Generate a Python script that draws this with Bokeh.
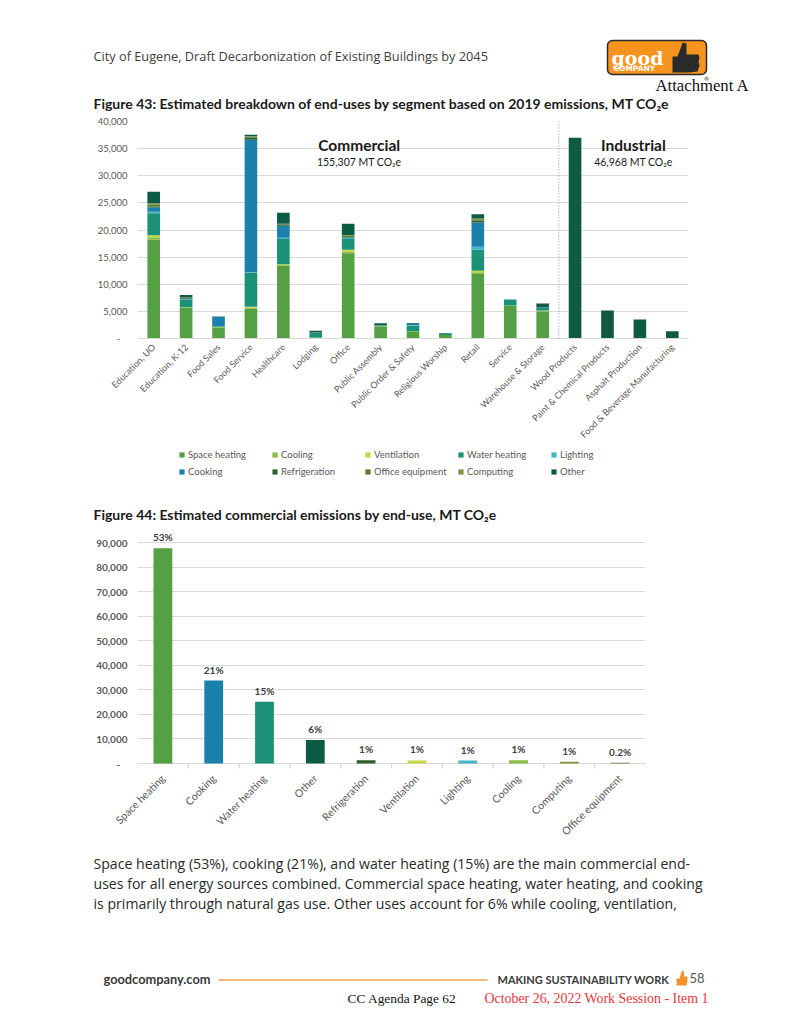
import math
from bokeh.plotting import figure
from bokeh.models import (Range1d, FactorRange, Span, Label, LabelSet, ColumnDataSource, Legend,
                          LegendItem, NumeralTickFormatter, SingleIntervalTicker)
from bokeh.transform import dodge
from bokeh.layouts import column, row
from bokeh.core.properties import value
from bokeh.embed import file_html
from bokeh.resources import INLINE

# ---------------- data: Figure 43 ----------------
commercial_segments = ["Education, UO", "Education, K-12", "Food Sales", "Food Service", "Healthcare",
                       "Lodging", "Office", "Public Assembly", "Public Order & Safety",
                       "Religious Worship", "Retail", "Service", "Warehouse & Storage"]
industrial_segments = ["Wood Products", "Paint & Chemical Products", "Asphalt Production",
                       "Food & Beverage Manufacturing"]
end_uses = ["Space heating", "Cooling", "Ventilation", "Water heating", "Lighting",
            "Cooking", "Refrigeration", "Office equipment", "Computing", "Other"]

space_heating    = [18200, 5600, 2000, 5500, 13400, 200, 15700, 2200, 1300, 650, 11900, 6000, 5000, 0, 0, 0, 0]
cooling          = [450, 100, 100, 150, 150, 0, 300, 50, 50, 0, 300, 100, 100, 0, 0, 0, 0]
ventilation      = [400, 50, 0, 200, 150, 0, 350, 0, 0, 0, 300, 0, 50, 0, 0, 0, 0]
water_heating    = [4050, 1350, 150, 6300, 4650, 800, 2000, 100, 1050, 300, 3900, 1050, 450, 0, 0, 0, 0]
lighting         = [250, 100, 50, 100, 200, 50, 200, 50, 100, 0, 500, 0, 50, 0, 0, 0, 0]
cooking          = [800, 150, 1650, 24400, 2250, 0, 50, 0, 150, 0, 4500, 0, 50, 0, 0, 0, 0]
refrigeration    = [200, 100, 50, 400, 200, 100, 100, 50, 50, 0, 300, 0, 0, 0, 0, 0, 0]
office_equipment = [350, 50, 0, 150, 100, 0, 300, 0, 0, 0, 300, 0, 0, 0, 0, 0, 0]
computing        = [250, 50, 0, 100, 50, 0, 100, 0, 0, 0, 100, 0, 0, 0, 0, 0, 0]
other            = [2100, 450, 50, 250, 2050, 300, 2050, 350, 150, 50, 800, 50, 750, 37000, 5150, 3500, 1318]

commercial_total_label = "155,307 MT CO₂e"
industrial_total_label = "46,968 MT CO₂e"

# ---------------- data: Figure 44 ----------------
fig44_uses = ["Space heating", "Cooking", "Water heating", "Other", "Refrigeration", "Ventilation",
              "Lighting", "Cooling", "Computing", "Office equipment"]
fig44_values = [87800, 33800, 25200, 9600, 1350, 1250, 1200, 1300, 750, 300]
fig44_pct = ["53%", "21%", "15%", "6%", "1%", "1%", "1%", "1%", "1%", "0.2%"]

y43_ticks_interval = 5000
y44_ticks_interval = 10000

# ---------------- styles ----------------
palette = {
    "Space heating": "#55A045",
    "Cooling": "#88BC43",
    "Ventilation": "#C5D640",
    "Water heating": "#1B9278",
    "Lighting": "#42B6C8",
    "Cooking": "#1C80AC",
    "Refrigeration": "#2D5F2E",
    "Office equipment": "#4F7D2C",
    "Computing": "#7F913A",
    "Other": "#0E5B45",
}
FONT = "Lato"
BODY = "Open Sans"
GRID = "#D9D9D9"
LABEL = "#595959"
W = 800


def text_fig(y_top, y_bottom):
    f = figure(width=W, height=y_bottom - y_top, x_range=Range1d(0, W),
               y_range=Range1d(y_bottom, y_top), min_border=0, toolbar_location=None,
               output_backend="svg")
    f.axis.visible = False
    f.grid.visible = False
    f.outline_line_color = None
    return f


def put(f, x, y, txt, size, color="#222222", font=FONT, style="normal", align="left", baseline="middle"):
    f.text(x=[x], y=[y], text=[txt], text_font=value(font), text_font_size=size,
           text_font_style=style, text_color=color, text_align=align, text_baseline=baseline)


# ---------------- header ----------------
head = text_fig(0, 112)
put(head, 93, 55.5, "City of Eugene, Draft Decarbonization of Existing Buildings by 2045", "12.75px", "#3d3d3d", font=BODY)
head.quad(left=[607], right=[706], top=[40], bottom=[74], fill_color="#F7941D",
          line_color="#2a2a2a", line_width=1.5, border_radius=5)
put(head, 611, 57, "good", "19px", "#ffffff", font="DejaVu Serif", style="bold", baseline="alphabetic")
put(head, 613, 67.5, "COMPANY", "7.5px", "#ffffff", font="DejaVu Sans", style="bold")
head.patch(x=[672, 677, 680, 682, 686, 686, 698, 699, 698, 699, 697, 689, 672],
           y=[56, 56, 48, 42, 43, 54, 54, 57, 61, 65, 71, 72, 72], fill_color="#2a2a2a", line_color=None)
put(head, 703, 77.5, "®", "6px", "#333333", font="DejaVu Sans")
put(head, 655, 85, "Attachment A", "16.7px", "#111111", font="Liberation Serif")
put(head, 93, 103, "Figure 43: Estimated breakdown of end-uses by segment based on 2019 emissions, MT CO₂e",
    "14px", "#1a1a1a", style="bold")

# ---------------- Figure 43 ----------------
all_segments = commercial_segments + industrial_segments
series = [space_heating, cooling, ventilation, water_heating, lighting, cooking,
          refrigeration, office_equipment, computing, other]
keys = ["s%d" % i for i in range(len(end_uses))]
data43 = {"segment": all_segments}
for k, s in zip(keys, series):
    data43[k] = s
src43 = ColumnDataSource(data43)

p1 = figure(x_range=FactorRange(*all_segments), y_range=Range1d(0, 40000),
            frame_width=551, frame_height=217, min_border_left=137, min_border_right=112,
            min_border_top=9, min_border_bottom=110, toolbar_location=None, output_backend="svg")
p1.vbar_stack(keys, x="segment", width=0.39, source=src43,
              fill_color=[palette[u] for u in end_uses], line_color=None)
p1.outline_line_color = None
p1.xgrid.visible = False
p1.ygrid.grid_line_color = GRID
p1.yaxis.ticker = SingleIntervalTicker(interval=y43_ticks_interval)
p1.yaxis.formatter = NumeralTickFormatter(format="0,0")
p1.yaxis.major_label_overrides = {0: "-\u00a0\u00a0\u00a0"}
p1.yaxis.axis_line_color = None
p1.yaxis.major_tick_line_color = None
p1.yaxis.major_tick_out = 0
p1.yaxis.minor_tick_line_color = None
p1.yaxis.minor_tick_out = 0
p1.yaxis.major_label_standoff = 10
p1.yaxis.major_label_text_font = FONT
p1.yaxis.major_label_text_font_size = "9.5px"
p1.yaxis.major_label_text_color = LABEL
p1.xaxis.axis_line_color = GRID
p1.xaxis.major_tick_line_color = None
p1.xaxis.major_tick_out = 0
p1.xaxis.major_label_orientation = math.pi / 4
p1.xaxis.major_label_standoff = 7
p1.xaxis.major_label_text_font = FONT
p1.xaxis.major_label_text_font_size = "9px"
p1.xaxis.major_label_text_color = LABEL

p1.add_layout(Span(location=len(commercial_segments), dimension="height", line_color="#8a8a8a",
                   line_dash="1 2", line_width=1))
for x, y, t, size, style in [(6.84, 35760, "Commercial", "15.5px", "bold"),
                             (6.84, 32500, commercial_total_label, "10.5px", "normal"),
                             (15.3, 35760, "Industrial", "15.5px", "bold"),
                             (15.3, 32500, industrial_total_label, "10.5px", "normal")]:
    p1.add_layout(Label(x=x, y=y, text=t, text_align="center", text_baseline="middle",
                        text_font=FONT, text_font_size=size, text_font_style=style,
                        text_color="#1a1a1a"))

# ---------------- legend of Figure 43 ----------------
leg = text_fig(448, 490)
items = []
for u in end_uses:
    r = leg.scatter(x=[float("nan")], y=[float("nan")], marker="square", size=5,
                    fill_color=palette[u], line_color=None)
    items.append(LegendItem(label=u, renderers=[r], index=0))
legend = Legend(items=items, location=(175, 12), orientation="horizontal", ncols=5,
                glyph_width=13, glyph_height=13, label_height=13, label_width=76,
                label_standoff=0, spacing=4, padding=0, margin=0, border_line_color=None,
                background_fill_alpha=0, label_text_font=FONT, label_text_font_size="9.5px",
                label_text_color=LABEL)
leg.add_layout(legend, "center")

# ---------------- Figure 44 title ----------------
t44 = text_fig(490, 525)
put(t44, 93, 514, "Figure 44: Estimated commercial emissions by end-use, MT CO₂e", "14px", "#1a1a1a", style="bold")

# ---------------- Figure 44 ----------------
TICK = 2036  # 5 px of the value scale below zero, for the category boundary ticks
src44 = ColumnDataSource(dict(use=fig44_uses, val=fig44_values, pct=fig44_pct,
                              color=[palette[u] for u in fig44_uses]))
p2 = figure(x_range=FactorRange(*fig44_uses), y_range=Range1d(-TICK, 95000),
            frame_width=508, frame_height=238, min_border_left=137, min_border_right=112,
            min_border_top=5, min_border_bottom=77,
            toolbar_location=None, output_backend="svg")
p2.vbar(x="use", top="val", bottom=0, width=0.37, source=src44, fill_color="color", line_color=None)
p2.segment(x0=dodge("use", -0.5, range=p2.x_range), y0=0, x1=dodge("use", -0.5, range=p2.x_range),
           y1=-TICK, source=src44, line_color=GRID, line_width=1)
p2.segment(x0=dodge("use", 0.5, range=p2.x_range), y0=0, x1=dodge("use", 0.5, range=p2.x_range),
           y1=-TICK, source=src44, line_color=GRID, line_width=1)
p2.outline_line_color = None
p2.xgrid.visible = False
p2.ygrid.grid_line_color = GRID
p2.yaxis.ticker = SingleIntervalTicker(interval=y44_ticks_interval)
p2.yaxis.formatter = NumeralTickFormatter(format="0,0")
p2.yaxis.major_label_overrides = {0: "-\u00a0\u00a0\u00a0"}
p2.yaxis.axis_line_color = None
p2.yaxis.major_tick_line_color = None
p2.yaxis.major_tick_out = 0
p2.yaxis.minor_tick_line_color = None
p2.yaxis.minor_tick_out = 0
p2.yaxis.major_label_standoff = 10
p2.yaxis.major_label_text_font = FONT
p2.yaxis.major_label_text_font_size = "10px"
p2.yaxis.major_label_text_font_style = "bold"
p2.yaxis.major_label_text_color = LABEL
p2.xaxis.axis_line_color = None
p2.xaxis.major_tick_line_color = None
p2.xaxis.major_tick_out = 0
p2.xaxis.major_label_orientation = math.pi / 4
p2.xaxis.major_label_standoff = 8
p2.xaxis.major_label_text_font = FONT
p2.xaxis.major_label_text_font_size = "10.5px"
p2.xaxis.major_label_text_color = LABEL
p2.add_layout(LabelSet(x="use", y="val", text="pct", source=src44, y_offset=11,
                       text_align="center", text_baseline="middle", text_font=value(FONT),
                       text_font_size="10px", text_font_style="bold", text_color="#404040"))

# ---------------- body text + footer ----------------
foot = text_fig(845, 1035)
lines = ["Space heating (53%), cooking (21%), and water heating (15%) are the main commercial end-",
         "uses for all energy sources combined. Commercial space heating, water heating, and cooking",
         "is primarily through natural gas use. Other uses account for 6% while cooling, ventilation,"]
for i, ln in enumerate(lines):
    put(foot, 93, 862.5 + 20 * i, ln, "14.1px", "#2a2a2a", font=BODY)
put(foot, 103, 978, "goodcompany.com", "12.8px", "#3a3a3a", style="bold")
foot.line(x=[218, 487], y=[979.5, 979.5], line_color="#F5A04A", line_width=1.5)
put(foot, 497, 978.5, "MAKING SUSTAINABILITY WORK", "11px", "#3a3a3a", style="bold")
foot.patch(x=[676, 679, 680.5, 681.5, 683.5, 683.5, 687, 687, 686, 682.5, 676],
           y=[978, 978, 973, 970, 971, 976, 976, 980, 985, 985, 985], fill_color="#F3922A", line_color=None)
put(foot, 689, 977, "58", "13px", "#555555")
put(foot, 347, 997.5, "CC Agenda Page 62", "13.4px", "#111111", font="Liberation Serif")
put(foot, 484, 997.5, "October 26, 2022 Work Session - Item 1", "13.9px", "#E8343A", font="Liberation Serif")

page = column(row(head), row(p1), row(leg), row(t44), row(p2), row(foot), spacing=0)
open("out.html", "w").write(file_html(page, INLINE))
